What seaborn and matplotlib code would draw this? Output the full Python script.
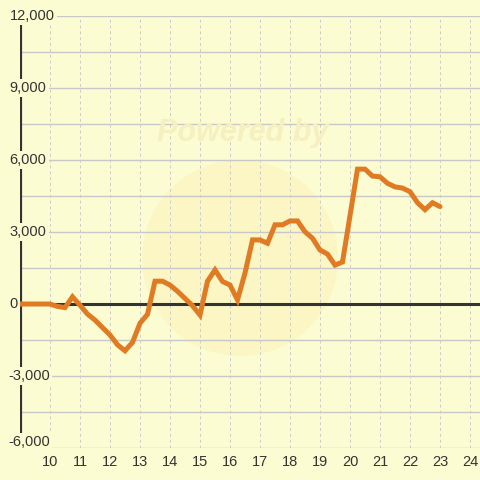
import numpy as np
import pandas as pd
import matplotlib
matplotlib.use("Agg")
import matplotlib.pyplot as plt
import seaborn as sns
from matplotlib.patches import Circle

# cumulative value sampled every quarter step
steps = [9.0, 9.25, 9.5, 9.75, 10.0, 10.25, 10.5, 10.75, 11.0, 11.25, 11.5, 11.75,
         12.0, 12.25, 12.5, 12.75, 13.0, 13.25, 13.5, 13.75, 14.0, 14.25, 14.5, 14.75,
         15.0, 15.25, 15.5, 15.75, 16.0, 16.25, 16.5, 16.75, 17.0, 17.25, 17.5, 17.75,
         18.0, 18.25, 18.5, 18.75, 19.0, 19.25, 19.5, 19.75, 20.0, 20.25, 20.5, 20.75,
         21.0, 21.25, 21.5, 21.75, 22.0, 22.25, 22.5, 22.75, 23.0]
values = [0, 0, 0, 0, 0, -100, -150, 300, -50, -420, -670, -980,
          -1290, -1700, -1950, -1600, -800, -430, 950, 950, 790, 530, 230, -70,
          -460, 950, 1420, 940, 790, 170, 1290, 2670, 2670, 2530, 3300, 3300,
          3460, 3460, 3010, 2740, 2250, 2080, 1620, 1750, 3680, 5620, 5620, 5330,
          5300, 5030, 4880, 4830, 4680, 4220, 3930, 4220, 4060]

x_ticks = list(range(10, 25))
y_ticks = [12000, 9000, 6000, 3000, 0, -3000, -6000]

bg = "#fcfcd3"
text_col = "#333333"

df = pd.DataFrame({"step": steps, "value": values})

sns.set_style("white")
plt.rcParams["font.family"] = ["Liberation Sans", "DejaVu Sans"]

fig = plt.figure(figsize=(4.8, 4.8), dpi=100)
fig.patch.set_facecolor(bg)
ax = fig.add_axes([20 / 480, 32 / 480, 460 / 480, 432 / 480])
ax.set_facecolor(bg)

# faint watermark
ax.add_patch(Circle((2.4, 2.22), 0.98, transform=fig.dpi_scale_trans,
                    facecolor="#fbf6c4", edgecolor="none", zorder=0.2))
fig.text(0.505, 1 - 133 / 480, "Powered by", ha="center", va="center",
         fontsize=22, fontweight="bold", style="italic", color="#f6efbf", zorder=0.3)

ax.set_xlim(9, 24 + 1 / 3)
ax.set_ylim(-6000, 12000)

# grid
for v in np.arange(-6000, 12001, 1500):
    ax.axhline(v, color="#c8c8c8", lw=1, zorder=0.5)
for t in x_ticks:
    ax.axvline(t, color="#cccccc", lw=0.7, ls=(0, (3, 3)), zorder=0.5)

ax.axhline(0, color="#333333", lw=2.2, zorder=2)
ax.axvline(9.0, color="#333333", lw=3, zorder=2)

sns.lineplot(data=df, x="step", y="value", ax=ax, color="#e07b24",
             linewidth=3.6, zorder=3, solid_joinstyle="miter")

for s in ax.spines.values():
    s.set_visible(False)

ax.set_xticks(x_ticks)
ax.set_xticklabels([str(t) for t in x_ticks], fontsize=10.5, color=text_col)
ax.tick_params(axis="x", length=0, pad=5)
ax.set_yticks([])
ax.set_xlabel("")
ax.set_ylabel("")

for v in y_ticks:
    dy = 4.5 if v == -6000 else 0
    dx = -8.5 if v < 0 else -7.5
    ax.annotate(f"{v:,}", xy=(0, v), xycoords=("axes fraction", "data"),
                xytext=(dx, dy), textcoords="offset points",
                ha="left", va="center", fontsize=10.5, color=text_col, zorder=5,
                bbox=dict(boxstyle="square,pad=0.15", facecolor=bg, edgecolor="none"),
                annotation_clip=False)

fig.savefig("out.png", dpi=100, facecolor=bg)
